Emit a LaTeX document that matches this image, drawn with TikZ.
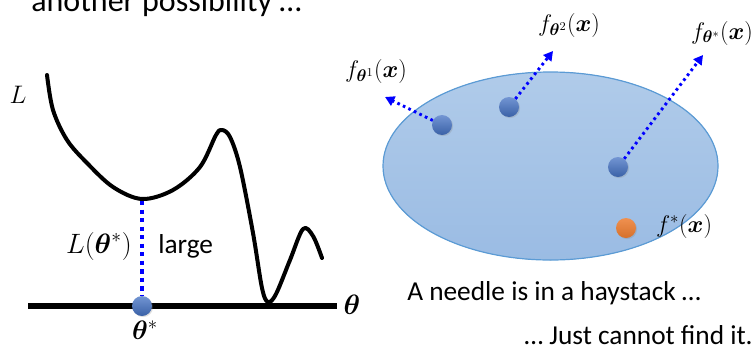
\RequirePackage{fix-cm}
\documentclass[tikz,border=0pt]{standalone}
\usepackage{amsmath,bm}
\usepackage{fontspec}
\setmainfont{Carlito}
\usetikzlibrary{arrows.meta,shadows}
\definecolor{dotblue}{HTML}{4472C4}
\definecolor{ellfill}{HTML}{A2C2E6}
\definecolor{ellline}{HTML}{5B9BD5}
\definecolor{orng}{HTML}{ED7D31}
\definecolor{pureblue}{HTML}{0000FF}
\tikzset{
  ball/.style={circle, minimum size=15pt, inner sep=0pt, top color=dotblue!75!white, bottom color=dotblue!85!black, draw=none,
    drop shadow={opacity=0.25,shadow xshift=0.8pt,shadow yshift=-0.8pt}},
  oball/.style={circle, minimum size=15pt, inner sep=0pt, top color=orng!85!white, bottom color=orng!90!black, draw=none,
    drop shadow={opacity=0.25,shadow xshift=0.8pt,shadow yshift=-0.8pt}},
  dotarrow/.style={pureblue, line width=2.2pt, dash pattern=on 2pt off 2.6pt, -{Triangle[length=7pt,width=7.5pt]}},
  vdots/.style={pureblue, line width=3.2pt, dash pattern=on 3.2pt off 3.2pt},
  txt/.style={font=\fontsize{20.5}{24}\selectfont, inner sep=0pt},
  mlab/.style={font=\fontsize{18}{20}\selectfont, inner sep=0pt},
}
\begin{document}
\begin{tikzpicture}[x=0.75pt,y=-0.75pt]
\useasboundingbox (0,0) rectangle (755,350);
% title (cut off)
\node[font=\fontsize{24}{28}\selectfont, inner sep=0pt, anchor=base west] (title) at (31,11) {another possibility \dots};
% left plot
\node[inner sep=0pt, font=\fontsize{19}{22}\selectfont] (Lab) at (18,95) {$L$};
\draw[line width=3pt, line cap=round, line join=round] plot[smooth, tension=0.55] coordinates {
 (47,75) (53,110) (67,140) (87,163) (113,187) (142,199) (173,190) (200,167) (216,135) (222,130) (230,137) (240,167) (253,233) (262,288) (268,302) (276,294) (290,260) (303,229) (313,236) (322,258)};
\coordinate (cmin) at (142,201);
\node[inner sep=0pt] (axl) at (28,306) {};
\node[inner sep=0pt] (axr) at (337,306) {};
\draw[line width=4.6pt] (axl.center) -- (axr.center);
\node[font=\fontsize{21}{24}\selectfont, inner sep=0pt] (thlab) at (352,305) {$\bm{\theta}$};
\node[ball] (th) at (142,306) {};
\draw[vdots] (cmin) -- (th.north);
\node[font=\fontsize{20}{24}\selectfont, inner sep=0pt] (thstar) at (145,330) {$\bm{\theta}^*$};
\node[font=\fontsize{21}{24}\selectfont, inner sep=0pt, anchor=east] (Lth) at (132,246) {$L(\bm{\theta}^*)$};
\node[txt, anchor=base west] (large) at (158,253) {large};
% right: ellipse
\fill[top color=ellfill!85!white, bottom color=ellfill!92!dotblue] (550.5,166) ellipse [x radius=167.5, y radius=94];
\draw[ellline, line width=0.9pt] (550.5,166) ellipse [x radius=167.5, y radius=94];
\node[ball] (d1) at (442,125) {};
\node[ball] (d2) at (509,107) {};
\node[ball] (d3) at (618,167) {};
\node[oball] (ds) at (626,228) {};
\coordinate (t1) at (385,97);
\coordinate (t2) at (553,51);
\coordinate (t3) at (703,55);
\draw[dotarrow] (d1) -- (t1);
\draw[dotarrow] (d2) -- (t2);
\draw[dotarrow] (d3) -- (t3);
\node[mlab] (f1) at (376,71) {$f_{\bm{\theta}^1}(\bm{x})$};
\node[mlab] (f2) at (569,25) {$f_{\bm{\theta}^2}(\bm{x})$};
\node[mlab] (f3) at (722,33) {$f_{\bm{\theta}^*}(\bm{x})$};
\node[mlab] (fs) at (684,226) {$f^*(\bm{x})$};
\node[txt, anchor=base west] (t1txt) at (407,300) {A needle is in a haystack \dots};
\node[txt, anchor=base east] (t2txt) at (753,344) {\dots\ Just cannot find it.};
\end{tikzpicture}
\end{document}
